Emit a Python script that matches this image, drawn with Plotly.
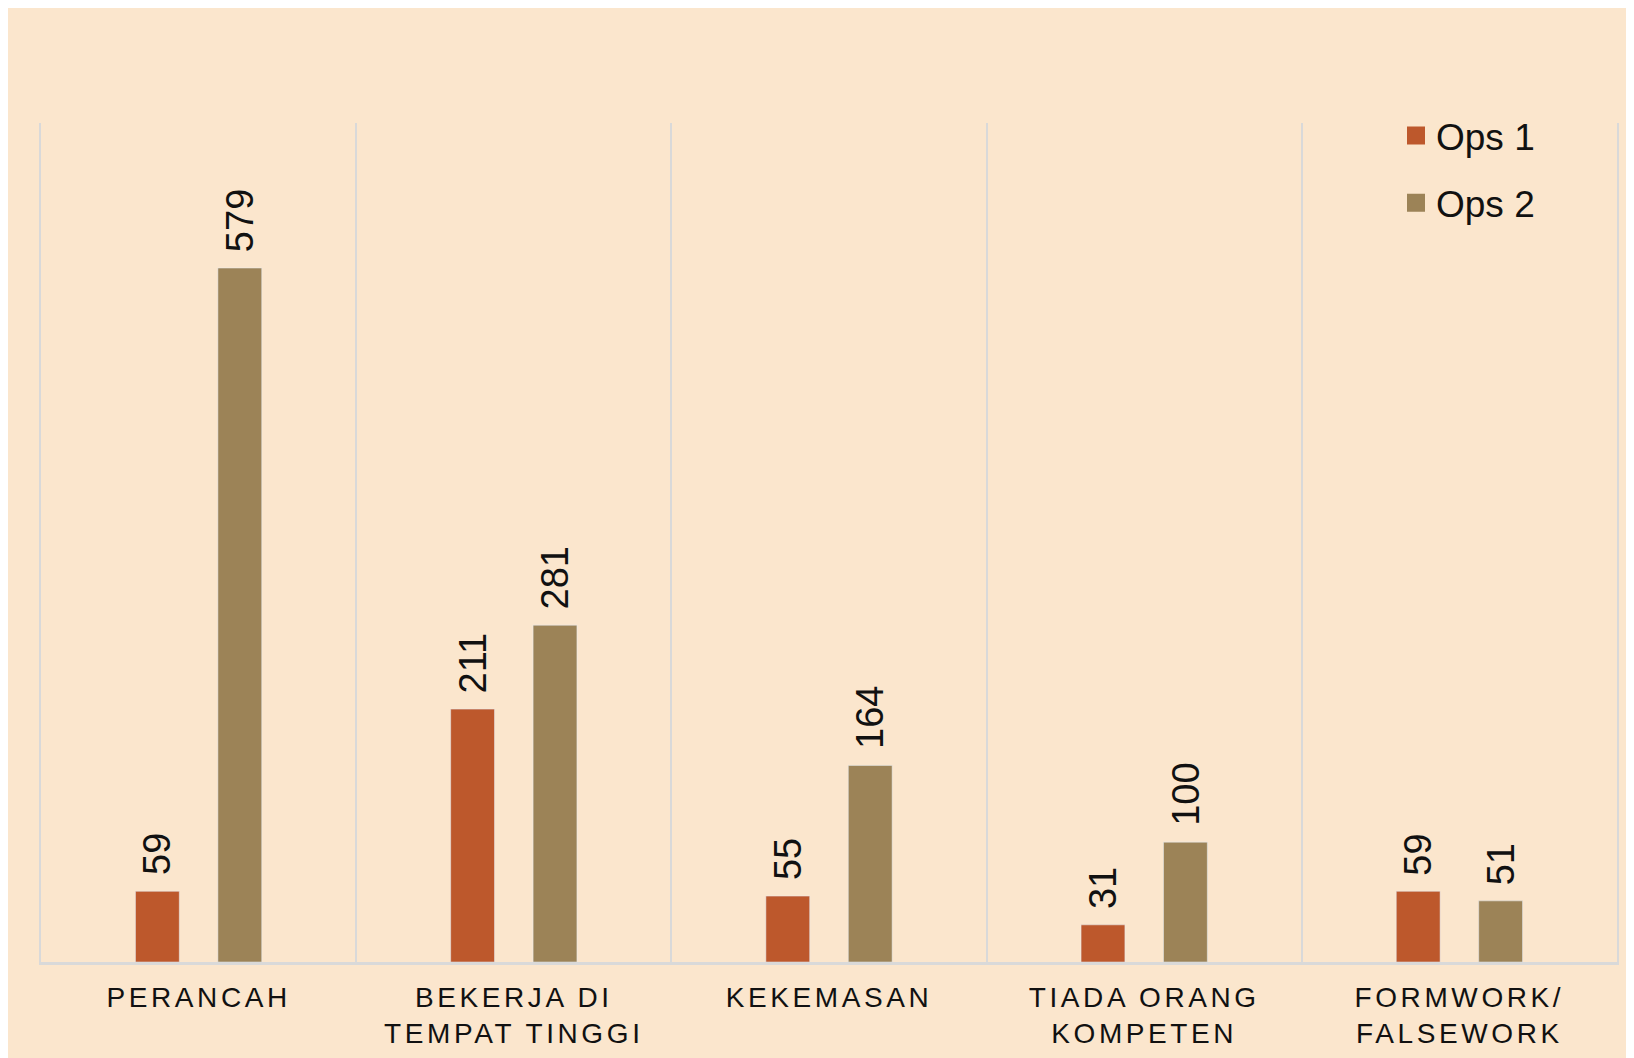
import plotly.graph_objects as go

categories = ["PERANCAH", "BEKERJA DI TEMPAT TINGGI", "KEKEMASAN", "TIADA ORANG KOMPETEN", "FORMWORK/ FALSEWORK"]
tick_lines = [["PERANCAH"], ["BEKERJA DI", "TEMPAT TINGGI"], ["KEKEMASAN"],
              ["TIADA ORANG", "KOMPETEN"], ["FORMWORK/", "FALSEWORK"]]
ops1 = [59, 211, 55, 31, 59]
ops2 = [579, 281, 164, 100, 51]
series_names = ["Ops 1", "Ops 2"]

C1 = "#BD582C"
C2 = "#9C8357"
BG = "#FBE6CD"
GRID = "#D9D9D9"
FONT = "Liberation Sans, Arial, sans-serif"

# page body has an 8px margin; figure sized to fill the rest of the window
W, H = 1626, 1050
ML, MR, MT, MB = 33, 17, 115, 96
PW, PH = W - ML - MR, H - MT - MB

def spaced(line):
    return '<span style="letter-spacing:3.6px">' + line + '</span>'

ticktext = ["<br>".join(spaced(l) for l in lines) for lines in tick_lines]

fig = go.Figure()
fig.add_trace(go.Bar(x=categories, y=ops1, name=series_names[0], marker_color=C1,
                     showlegend=False))
fig.add_trace(go.Bar(x=categories, y=ops2, name=series_names[1], marker_color=C2,
                     showlegend=False))

# legend entries with larger square swatches
for nm, col, grp in [(series_names[0], C1, "a"), (series_names[1], C2, "b")]:
    fig.add_trace(go.Scatter(x=[None], y=[None], mode="markers", name=nm, legendgroup=grp,
                             marker=dict(symbol="square", size=16, color=col,
                                         line=dict(color=col, width=2))))

# data labels
for vals, shift in [(ops1, -41), (ops2, 41)]:
    for c, v in zip(categories, vals):
        fig.add_annotation(x=c, y=v, text=str(v), showarrow=False, textangle=-90,
                           xshift=shift, yshift=14, yanchor="bottom", xanchor="center",
                           font=dict(family=FONT, size=38, color="#111111"))

fig.update_layout(
    width=W, height=H,
    margin=dict(l=ML, r=MR, t=MT, b=MB, autoexpand=False),
    paper_bgcolor=BG,
    plot_bgcolor=BG,
    barmode="group", bargap=0.477, bargroupgap=0.468,
    font=dict(family=FONT, color="#111111"),
    showlegend=True,
    legend=dict(x=(1396 - 8 - ML) / PW, xanchor="left", y=1 + 18 / PH, yanchor="top",
                font=dict(family=FONT, size=37, color="#111111"),
                bgcolor="rgba(0,0,0,0)", tracegroupgap=16, traceorder="grouped",
                itemclick=False),
)
fig.update_xaxes(tickson="boundaries", showgrid=True, gridcolor=GRID, gridwidth=2,
                 showline=True, linecolor=GRID, linewidth=3, ticks="",
                 tickmode="array", tickvals=categories, ticktext=ticktext,
                 ticklabelstandoff=8, automargin=False,
                 tickfont=dict(family=FONT, size=28, color="#111111"), tickangle=0)
fig.update_yaxes(range=[0, 700], showgrid=False, zeroline=False, showticklabels=False,
                 showline=True, linecolor=GRID, linewidth=2, mirror=True, ticks="",
                 automargin=False)

fig.write_html("out.html")
